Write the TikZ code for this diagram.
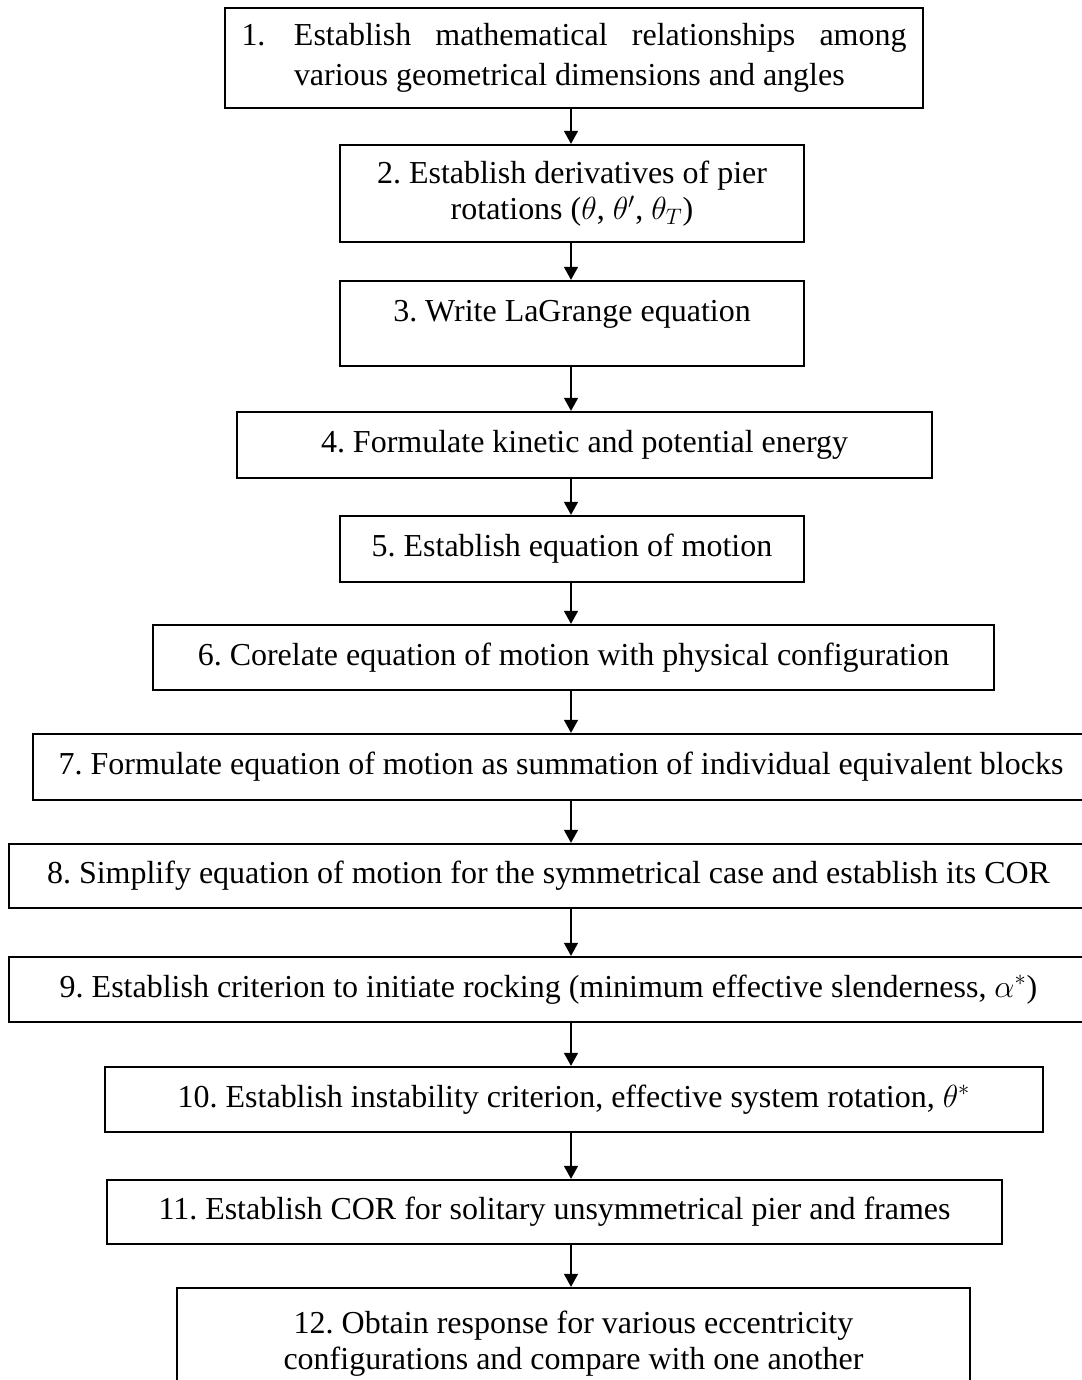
\RequirePackage{fix-cm}
\documentclass[tikz,border=0pt]{standalone}
\usepackage{fontspec}
\setmainfont{Liberation Serif}
\usetikzlibrary{arrows.meta}
\def\flowaxis{11.42}
\frenchspacing

\begin{document}
\begin{tikzpicture}[>={Triangle[length=0.26cm,width=0.28cm]}]
		\tikzstyle{box}=[draw=black, line width=1.3pt, fill=white, inner sep=0pt, align=center, font=\fontsize{18.2}{19.5}\selectfont]
		\tikzstyle{arr}=[->, line width=0.7pt]
		\useasboundingbox (0,0) rectangle (21.62,-27.6);

		% Draw the steps
		\node[box, minimum width=13.96cm, minimum height=2cm, text width=13.3cm, align=justify, font=\fontsize{18.2}{22.8}\selectfont] (s1) at (11.48,-1.16) {\makebox[1.05cm][l]{1.}Establish mathematical relationships among\linebreak\hspace*{1.05cm}various geometrical dimensions and angles};
		\node[box, minimum width=9.28cm, minimum height=1.94cm, font=\fontsize{18.2}{20.8}\selectfont] (s2) at (11.44,-3.87) {2. Establish derivatives of pier\\ rotations ($\theta$, $\theta'$, $\theta_T$)};
		\node[box, minimum width=9.28cm, minimum height=1.70cm, text depth=0.5cm] (s3) at (11.44,-6.47) {3. Write LaGrange equation};
		\node[box, minimum width=13.9cm, minimum height=1.32cm] (s4) at (11.69,-8.9) {4. Formulate kinetic and potential energy};
		\node[box, minimum width=9.28cm, minimum height=1.32cm] (s5) at (11.44,-10.98) {5. Establish equation of motion};
		\node[box, minimum width=16.82cm, minimum height=1.30cm] (s6) at (11.47,-13.15) {6. Corelate equation of motion with physical configuration};
		\node[box, minimum width=21.12cm, minimum height=1.32cm] (s7) at (11.22,-15.34) {7. Formulate equation of motion as summation of individual equivalent blocks};
		\node[box, minimum width=21.58cm, minimum height=1.28cm] (s8) at (10.97,-17.52) {8. Simplify equation of motion for the symmetrical case and establish its COR};
		\node[box, minimum width=21.58cm, minimum height=1.30cm] (s9) at (10.97,-19.79) {9. Establish criterion to initiate rocking (minimum effective slenderness, $\alpha^*$)};
		\node[box, minimum width=18.76cm, minimum height=1.30cm] (s10) at (11.48,-21.99) {10. Establish instability criterion, effective system rotation, $\theta^*$};
		\node[box, minimum width=17.9cm, minimum height=1.28cm] (s11) at (11.09,-24.24) {11. Establish COR for solitary unsymmetrical pier and frames};
		\node[box, minimum width=15.86cm, minimum height=2.24cm, font=\fontsize{18.2}{20.5}\selectfont] (s12) at (11.47,-26.88) {12. Obtain response for various eccentricity\\ configurations and compare with one another};

		\coordinate (axis) at (\flowaxis,0);

		% Draw arrows
		\path[arr] (s1.south -| axis) edge (s2.north -| axis);
		\path[arr] (s2.south -| axis) edge (s3.north -| axis);
		\path[arr] (s3.south -| axis) edge (s4.north -| axis);
		\path[arr] (s4.south -| axis) edge (s5.north -| axis);
		\path[arr] (s5.south -| axis) edge (s6.north -| axis);
		\path[arr] (s6.south -| axis) edge (s7.north -| axis);
		\path[arr] (s7.south -| axis) edge (s8.north -| axis);
		\path[arr] (s8.south -| axis) edge (s9.north -| axis);
		\path[arr] (s9.south -| axis) edge (s10.north -| axis);
		\path[arr] (s10.south -| axis) edge (s11.north -| axis);
		\path[arr] (s11.south -| axis) edge (s12.north -| axis);

\end{tikzpicture}
\end{document}
